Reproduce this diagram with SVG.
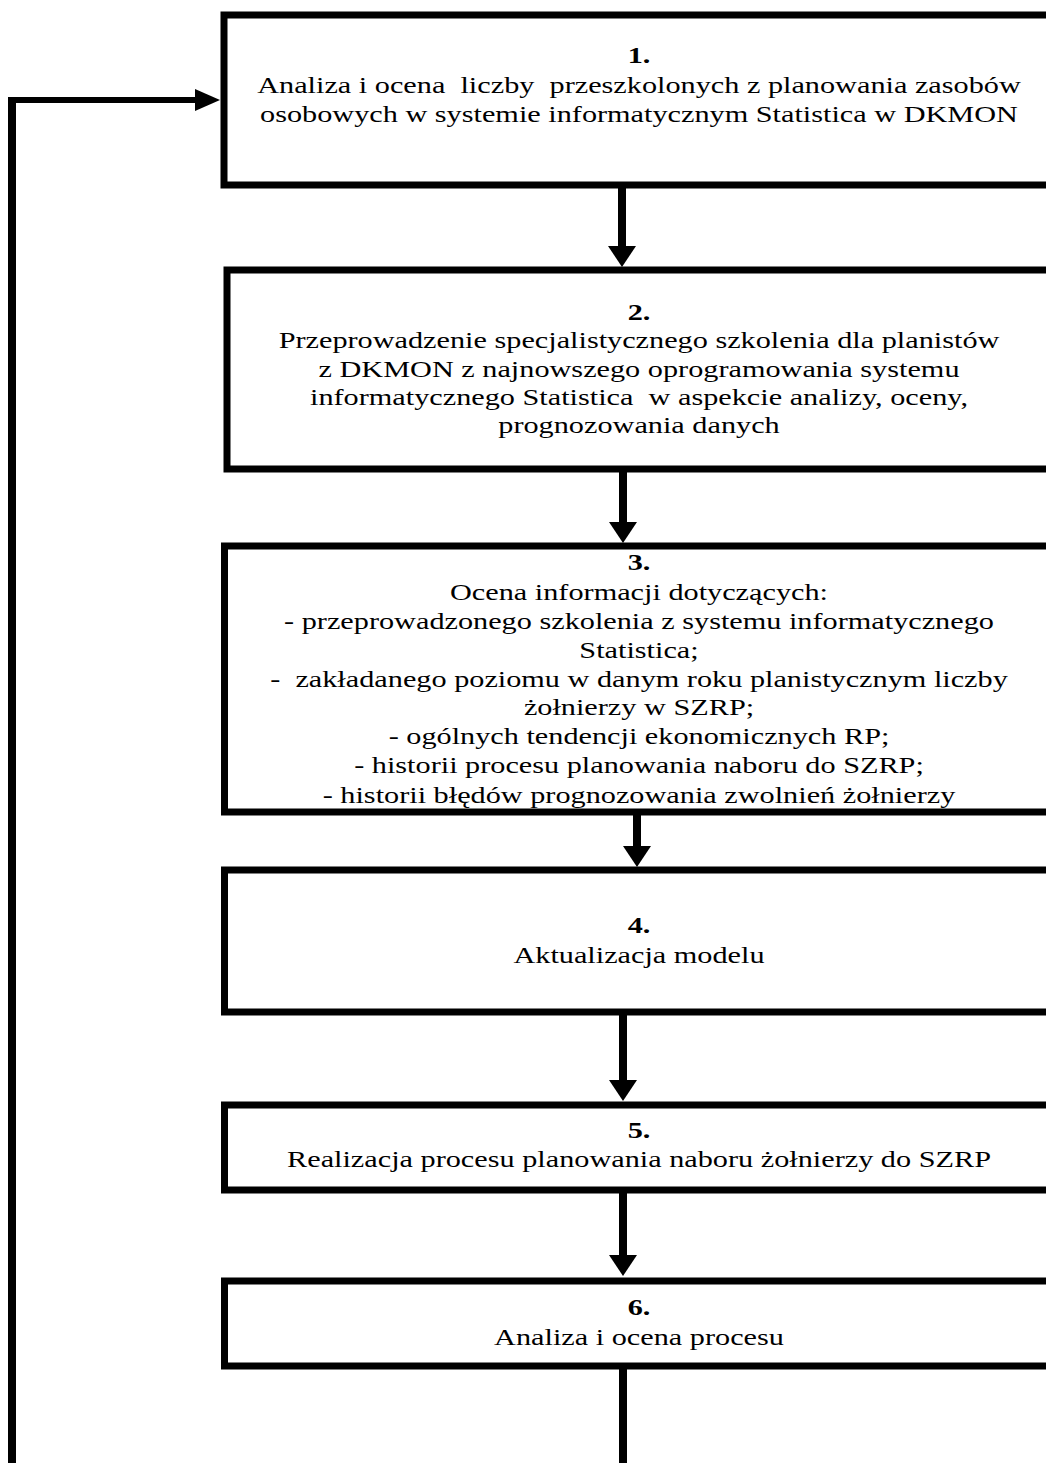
<svg xmlns="http://www.w3.org/2000/svg" width="1046" height="1463" viewBox="0 0 1046 1463">
  <style>
    .box { fill: #ffffff; stroke: #000000; stroke-width: 7; }
    .wire { fill: none; stroke: #000000; stroke-width: 8; stroke-linecap: butt; }
    .wire-h { fill: none; stroke: #000000; stroke-width: 6; }
    .head { fill: #000000; }
    text { font-family: "Liberation Serif", "Times New Roman", serif; font-size: 22.5px; fill: #000000; text-anchor: middle; white-space: pre; }
    .num { font-weight: bold; }
  </style>
  <defs>
    <!-- arrowheads with their tip at the origin -->
    <polygon id="head-down" class="head" points="-14,-21 14,-21 0,0"/>
    <polygon id="head-right" class="head" points="-25,-11 -25,11 0,0"/>
  </defs>

  <rect width="1046" height="1463" fill="#ffffff"/>

  <!-- connectors -->
  <g id="connectors">
    <!-- feedback loop back into step 1 -->
    <line class="wire" x1="12" y1="97" x2="12" y2="1470"/>
    <line class="wire-h" x1="8" y1="100" x2="198" y2="100"/>
    <use href="#head-right" x="220" y="100"/>

    <line class="wire" x1="622" y1="188" x2="622" y2="250"/>
    <use href="#head-down" x="622" y="267"/>

    <line class="wire" x1="623" y1="472" x2="623" y2="525"/>
    <use href="#head-down" x="623" y="543"/>

    <line class="wire" x1="637" y1="815" x2="637" y2="849"/>
    <use href="#head-down" x="637" y="867"/>

    <line class="wire" x1="623" y1="1015" x2="623" y2="1083"/>
    <use href="#head-down" x="623" y="1101"/>

    <line class="wire" x1="623" y1="1193" x2="623" y2="1258"/>
    <use href="#head-down" x="623" y="1276"/>

    <line class="wire" x1="623" y1="1369" x2="623" y2="1470"/>
  </g>

  <!-- step 1 -->
  <g id="node1">
    <rect class="box" x="224" y="15" width="840" height="170"/>
    <g transform="translate(639 0) scale(1.345 1)">
      <text class="num" x="0" y="63">1.</text>
      <text x="0" y="93">Analiza i ocena  liczby  przeszkolonych z planowania zasobów</text>
      <text x="0" y="122">osobowych w systemie informatycznym Statistica w DKMON</text>
    </g>
  </g>

  <!-- step 2 -->
  <g id="node2">
    <rect class="box" x="227" y="270" width="840" height="199"/>
    <g transform="translate(639 0) scale(1.345 1)">
      <text class="num" x="0" y="320">2.</text>
      <text x="0" y="348.5">Przeprowadzenie specjalistycznego szkolenia dla planistów</text>
      <text x="0" y="377">z DKMON z najnowszego oprogramowania systemu</text>
      <text x="0" y="405">informatycznego Statistica  w aspekcie analizy, oceny,</text>
      <text x="0" y="433">prognozowania danych</text>
    </g>
  </g>

  <!-- step 3 -->
  <g id="node3">
    <rect class="box" x="224.5" y="546" width="840" height="266"/>
    <g transform="translate(639 0) scale(1.345 1)">
      <text class="num" x="0" y="570">3.</text>
      <text x="0" y="600">Ocena informacji dotyczących:</text>
      <text x="0" y="629">- przeprowadzonego szkolenia z systemu informatycznego</text>
      <text x="0" y="658">Statistica;</text>
      <text x="0" y="687">-  zakładanego poziomu w danym roku planistycznym liczby</text>
      <text x="0" y="715">żołnierzy w SZRP;</text>
      <text x="0" y="744">- ogólnych tendencji ekonomicznych RP;</text>
      <text x="0" y="773">- historii procesu planowania naboru do SZRP;</text>
      <text x="0" y="803">- historii błędów prognozowania zwolnień żołnierzy</text>
    </g>
  </g>

  <!-- step 4 -->
  <g id="node4">
    <rect class="box" x="224.5" y="870" width="840" height="142"/>
    <g transform="translate(639 0) scale(1.345 1)">
      <text class="num" x="0" y="933">4.</text>
      <text x="0" y="963">Aktualizacja modelu</text>
    </g>
  </g>

  <!-- step 5 -->
  <g id="node5">
    <rect class="box" x="224.5" y="1105" width="840" height="85"/>
    <g transform="translate(639 0) scale(1.345 1)">
      <text class="num" x="0" y="1138">5.</text>
      <text x="0" y="1167">Realizacja procesu planowania naboru żołnierzy do SZRP</text>
    </g>
  </g>

  <!-- step 6 -->
  <g id="node6">
    <rect class="box" x="224.5" y="1281" width="840" height="85"/>
    <g transform="translate(639 0) scale(1.345 1)">
      <text class="num" x="0" y="1315">6.</text>
      <text x="0" y="1345">Analiza i ocena procesu</text>
    </g>
  </g>
</svg>
